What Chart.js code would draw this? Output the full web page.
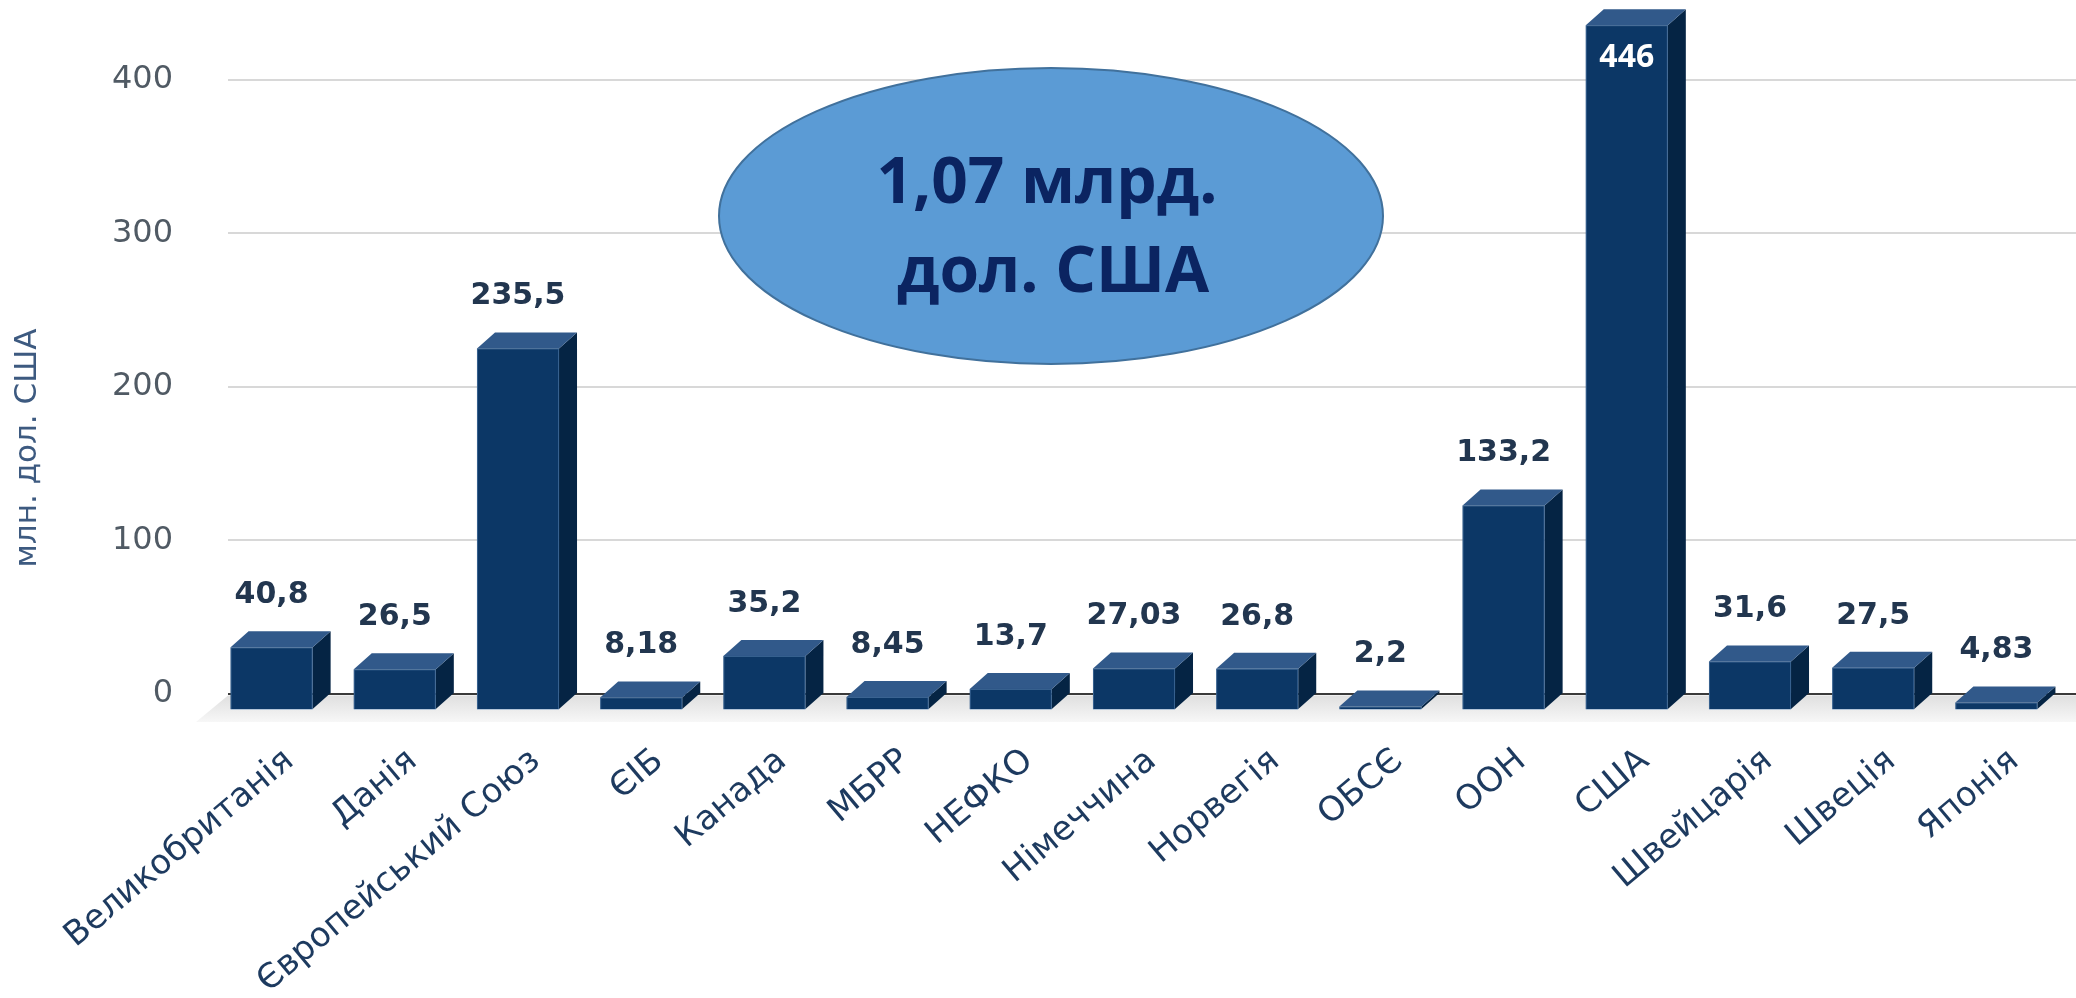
<!DOCTYPE html>
<html>
<head>
<meta charset="utf-8">
<title>Донори</title>
<script src="https://cdn.jsdelivr.net/npm/chart.js@4.4.1/dist/chart.umd.min.js"></script>
<style>
  html, body { margin: 0; padding: 0; background: #fff; }
  #wrap { width: 2076px; height: 998px; position: relative; }
</style>
</head>
<body>
<div id="wrap"><canvas id="donorChart"></canvas></div>
<script>
// Дані
const donors = ['Великобританія', 'Данія', 'Європейський Союз', 'ЄІБ', 'Канада', 'МБРР', 'НЕФКО',
  'Німеччина', 'Норвегія', 'ОБСЄ', 'ООН', 'США', 'Швейцарія', 'Швеція', 'Японія'];
const amounts = [40.8, 26.5, 235.5, 8.18, 35.2, 8.45, 13.7, 27.03, 26.8, 2.2, 133.2, 446, 31.6, 27.5, 4.83];
const yTicks = [0, 100, 200, 300, 400];
const yTitle = 'млн. дол. США';
const totalLines = ['1,07 млрд.', 'дол. США'];

// 3D offset of the bars
const DX = 18;
const DY = 16;

// Floor, 3D bars and value labels
const bar3d = {
  id: 'bar3d',
  beforeDatasetsDraw(chart) {
    const { ctx, chartArea } = chart;
    const y0 = chart.scales.y.getPixelForValue(0);
    ctx.save();
    const g = ctx.createLinearGradient(0, y0, 0, y0 + 28);
    g.addColorStop(0, '#dedede');
    g.addColorStop(1, '#f7f7f7');
    ctx.fillStyle = g;
    ctx.beginPath();
    ctx.moveTo(chartArea.left, y0 + 1.5);
    ctx.lineTo(chartArea.right, y0 + 1.5);
    ctx.lineTo(chartArea.right, y0 + 28);
    ctx.lineTo(chartArea.left - 32, y0 + 28);
    ctx.closePath();
    ctx.fill();
    ctx.restore();
  },
  afterDatasetsDraw(chart) {
    const ctx = chart.ctx;
    const meta = chart.getDatasetMeta(0);
    ctx.save();
    meta.data.forEach((bar, i) => {
      const { x, y, base, width } = bar.getProps(['x', 'y', 'base', 'width'], true);
      const l = x - width / 2;
      const r = x + width / 2;

      // side face
      ctx.fillStyle = '#052444';
      ctx.beginPath();
      ctx.moveTo(r - DX, y + DY);
      ctx.lineTo(r, y);
      ctx.lineTo(r, base);
      ctx.lineTo(r - DX, base + DY);
      ctx.closePath();
      ctx.fill();

      // top face
      ctx.fillStyle = '#31598a';
      ctx.beginPath();
      ctx.moveTo(l - DX, y + DY);
      ctx.lineTo(r - DX, y + DY);
      ctx.lineTo(r, y);
      ctx.lineTo(l, y);
      ctx.closePath();
      ctx.fill();

      // front face
      ctx.fillStyle = '#0c3766';
      ctx.fillRect(l - DX, y + DY, width, base - y);
      ctx.strokeStyle = 'rgba(110,150,195,0.45)';
      ctx.lineWidth = 1;
      ctx.strokeRect(l - DX + 0.5, y + DY + 0.5, width - 1, base - y);

      // value label
      const txt = String(amounts[i]).replace('.', ',');
      ctx.textAlign = 'center';
      ctx.textBaseline = 'middle';
      let ly = y - 36;
      if (ly < 20) {
        ctx.font = 'bold 32px "Open Sans"';
        ctx.fillStyle = '#ffffff';
        ly = y + DY + 33;
      } else {
        ctx.font = 'bold 30px "DejaVu Sans"';
        ctx.fillStyle = '#22364f';
      }
      ctx.fillText(txt, x - DX, ly);
    });
    ctx.restore();
  },
  afterDraw(chart) {
    const ctx = chart.ctx;
    ctx.save();

    // axis title
    ctx.translate(28, 448);
    ctx.rotate(-Math.PI / 2);
    ctx.font = '31px "DejaVu Sans"';
    ctx.fillStyle = '#3d5a80';
    ctx.textAlign = 'center';
    ctx.textBaseline = 'middle';
    ctx.fillText(yTitle, 0, 0);
    ctx.setTransform(1, 0, 0, 1, 0, 0);

    // total callout
    ctx.beginPath();
    ctx.ellipse(1051, 216, 332, 148, 0, 0, Math.PI * 2);
    ctx.fillStyle = '#5b9bd5';
    ctx.fill();
    ctx.lineWidth = 2;
    ctx.strokeStyle = '#41719c';
    ctx.stroke();

    ctx.font = 'bold 64px "Open Sans"';
    ctx.fillStyle = '#0b2461';
    ctx.textAlign = 'center';
    ctx.textBaseline = 'alphabetic';
    ctx.fillText(totalLines[0], 1047, 203);
    ctx.fillText(totalLines[1], 1053, 292);
    ctx.restore();
  }
};

const ctx = document.getElementById('donorChart').getContext('2d');
const donorChart = new Chart(ctx, {
  type: 'bar',
  data: {
    labels: donors,
    datasets: [
      {
        label: yTitle,
        data: amounts,
        backgroundColor: 'rgba(0,0,0,0)',
        borderWidth: 0,
        categoryPercentage: 1,
        barPercentage: 0.666,
      },
    ],
  },
  options: {
    responsive: true,
    maintainAspectRatio: false,
    animation: false,
    devicePixelRatio: 1,
    layout: { padding: 0, autoPadding: false },
    plugins: {
      legend: { display: false },
      tooltip: { enabled: false },
    },
    scales: {
      x: {
        grid: { display: false, drawTicks: false },
        border: { display: false },
        ticks: {
          autoSkip: false,
          minRotation: 40,
          maxRotation: 40,
          padding: 47,
          color: '#1d3a5f',
          font: { family: 'DejaVu Sans', size: 34 },
        },
        afterFit: (scale) => {
          scale.height = 304;
          scale.paddingLeft = 0;
          scale.paddingRight = 0;
        },
      },
      y: {
        min: 0,
        max: 452,
        grid: {
          drawTicks: false,
          lineWidth: 2,
          color: (c) => (c.tick && c.tick.value === 0 ? '#3a3a3a' : '#d8d8d8'),
        },
        border: { display: false },
        ticks: {
          padding: 55,
          color: '#505a64',
          font: { family: 'DejaVu Sans', size: 32 },
        },
        afterBuildTicks: (scale) => {
          scale.ticks = yTicks.map((v) => ({ value: v }));
        },
        afterFit: (scale) => {
          scale.width = 228;
          scale.paddingTop = 0;
          scale.paddingBottom = 0;
        },
      },
    },
  },
  plugins: [bar3d],
});
</script>
</body>
</html>
